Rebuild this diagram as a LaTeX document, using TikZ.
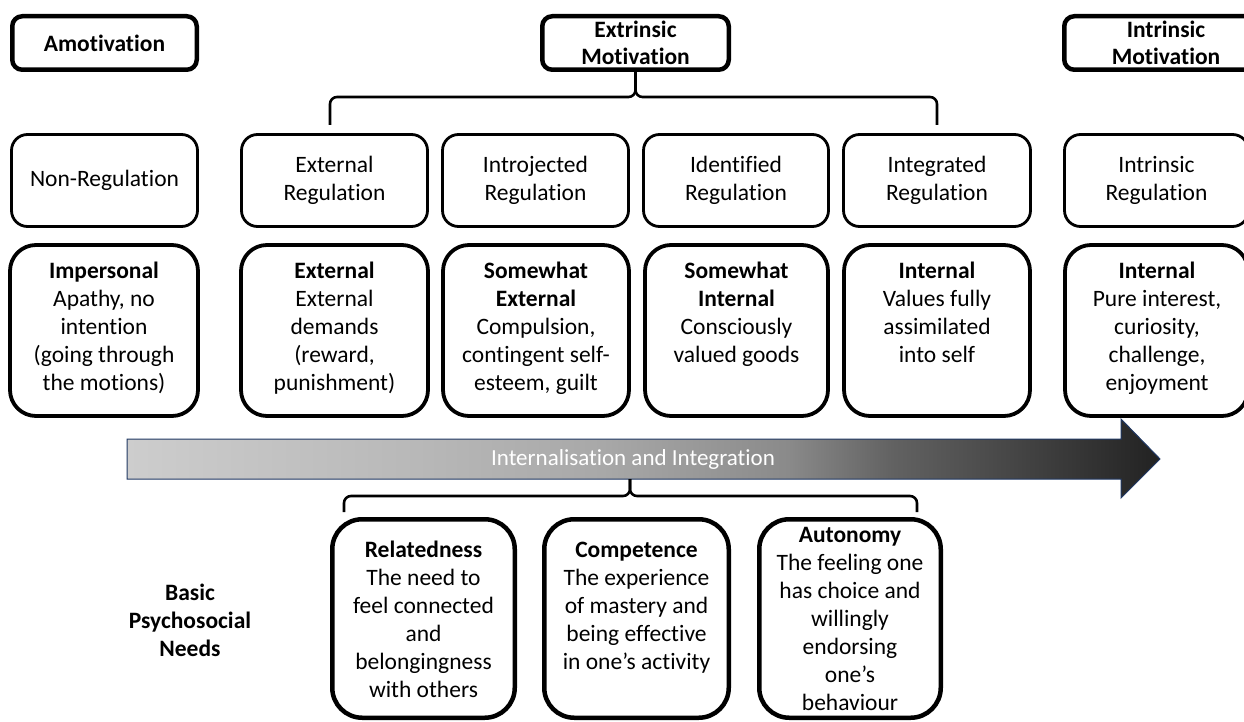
\documentclass[tikz,border=0pt]{standalone}
\usepackage{fontspec}
\setmainfont{Carlito}[Ligatures={NoCommon}]
\usetikzlibrary{calc}
\definecolor{arrowedge}{HTML}{203864}
\definecolor{gA}{HTML}{CDCDCD}
\definecolor{gB}{HTML}{B8B8B8}
\definecolor{gC}{HTML}{A8A8A8}
\definecolor{gD}{HTML}{8A8A8A}
\definecolor{gE}{HTML}{626262}
\definecolor{gF}{HTML}{4A4A4A}
\definecolor{gG}{HTML}{222222}
\pgfdeclarehorizontalshading{arrowshade}{100bp}{color(0bp)=(gA); color(25bp)=(gA); color(39bp)=(gB); color(48bp)=(gC); color(57bp)=(gD); color(62bp)=(gE); color(67bp)=(gF); color(75bp)=(gG); color(100bp)=(gG)}
\tikzset{
  basefont/.style={font=\fontsize{23.5}{28}\selectfont},
  topbox/.style={draw, line width=4.5pt, rounded corners=10pt, align=center, inner sep=0pt, font=\fontsize{23.5}{27}\selectfont\bfseries},
  rowone/.style={draw, line width=2.8pt, rounded corners=16pt, align=center, inner sep=0pt, basefont},
  rowtwo/.style={draw, line width=3.8pt, rounded corners=26pt, inner sep=0pt},
  needbox/.style={draw, line width=4.5pt, rounded corners=30pt, inner sep=0pt},
  boxtext/.style={align=center, inner sep=0pt, anchor=north, basefont},
  brace/.style={draw, line width=2.6pt, rounded corners=7pt},
}
\begin{document}
\begin{tikzpicture}[x=1pt, y=-1pt]
\useasboundingbox (0,0) rectangle (1244,722);
\clip (0,0) rectangle (1244,722);

% top level
\node[topbox, minimum width=184.5pt, minimum height=53.5pt] (amot) at (104.5,43) {Amotivation};
\node[topbox, minimum width=186.5pt, minimum height=53.5pt] (extr) at (635.5,43) {Extrinsic\\Motivation};
\node[topbox, minimum width=203.5pt, minimum height=53.5pt] (intr) at (1166,43) {Intrinsic\\Motivation};

% top brace
\coordinate (tbl) at (330,125);
\coordinate (tbr) at (937,125);
\draw[brace] (tbl) -- (330,97) -- (635.5,97) -- (extr.south);
\draw[brace] (tbr) -- (937,97) -- (635.5,97) -- (extr.south);

% row one
\node[rowone, minimum width=186pt, minimum height=92pt] (nonreg) at (104.5,180.5) {Non-Regulation};
\node[rowone, minimum width=186pt, minimum height=92pt] (extreg) at (334.5,180.5) {External\\Regulation};
\node[rowone, minimum width=186pt, minimum height=92pt] (introreg) at (535.5,180.5) {Introjected\\Regulation};
\node[rowone, minimum width=185pt, minimum height=92pt] (identreg) at (736,180.5) {Identified\\Regulation};
\node[rowone, minimum width=187pt, minimum height=92pt] (integreg) at (937,180.5) {Integrated\\Regulation};
\node[rowone, minimum width=184pt, minimum height=92pt] (intrreg) at (1156.5,180.5) {Intrinsic\\Regulation};

% row two
\node[rowtwo, minimum width=188pt, minimum height=171pt] (imp) at (104,330.5) {};
\node[rowtwo, minimum width=187pt, minimum height=171pt] (ext) at (334.5,330.5) {};
\node[rowtwo, minimum width=186pt, minimum height=171pt] (swext) at (536,330.5) {};
\node[rowtwo, minimum width=183pt, minimum height=171pt] (swint) at (736.5,330.5) {};
\node[rowtwo, minimum width=186pt, minimum height=171pt] (intg) at (937,330.5) {};
\node[rowtwo, minimum width=183pt, minimum height=171pt] (intrn) at (1156.5,330.5) {};

\node[boxtext] (impt) at (104,259) {\strut\textbf{Impersonal}\\Apathy, no\\intention\\(going through\\the motions)};
\node[boxtext] (extt) at (334.5,259) {\strut\textbf{External}\\External\\demands\\(reward,\\punishment)};
\node[boxtext] (swextt) at (536,259) {\strut\textbf{Somewhat}\\\textbf{External}\\Compulsion,\\contingent self-\\esteem, guilt};
\node[boxtext] (swintt) at (736.5,259) {\strut\textbf{Somewhat}\\\textbf{Internal}\\Consciously\\valued goods};
\node[boxtext] (intgt) at (937,259) {\strut\textbf{Internal}\\Values fully\\assimilated\\into self};
\node[boxtext] (intrnt) at (1157,259) {\strut\textbf{Internal}\\Pure interest,\\curiosity,\\challenge,\\enjoyment};

% arrow
\shade[shading=arrowshade, draw=arrowedge, line width=1pt]
  (127,439) -- (1121,439) -- (1121,419) -- (1160,459) -- (1121,498) -- (1121,479) -- (127,479) -- cycle;
\node[text=white, inner sep=0pt, font=\fontsize{23}{27}\selectfont] (arrowtext) at (633,459) {Internalisation and Integration};
\coordinate (arrowbot) at (630,479);

% bottom brace
\coordinate (bbl) at (344,512);
\coordinate (bbr) at (917,512);
\draw[brace] (bbl) -- (344,496) -- (630,496) -- (arrowbot);
\draw[brace] (bbr) -- (917,496) -- (630,496) -- (arrowbot);

% needs
\node[inner sep=0pt, align=center, font=\fontsize{23.5}{28}\selectfont\bfseries] (bpn) at (190,620) {Basic\\Psychosocial\\Needs};
\node[needbox, minimum width=182.5pt, minimum height=198.5pt] (relat) at (423.5,618.5) {};
\node[needbox, minimum width=184.5pt, minimum height=198.5pt] (compet) at (636.5,618.5) {};
\node[needbox, minimum width=181.5pt, minimum height=198.5pt] (auton) at (850,618.5) {};
\node[boxtext] (relatt) at (423.5,538) {\strut\textbf{Relatedness}\\The need to\\feel connected\\and\\belongingness\\with others};
\node[boxtext] (compett) at (636.5,538) {\strut\textbf{Competence}\\The experience\\of mastery and\\being effective\\in one’s activity};
\node[boxtext] (autont) at (850,523) {\strut\textbf{Autonomy}\\The feeling one\\has choice and\\willingly\\endorsing\\one’s\\behaviour};
\end{tikzpicture}
\end{document}
